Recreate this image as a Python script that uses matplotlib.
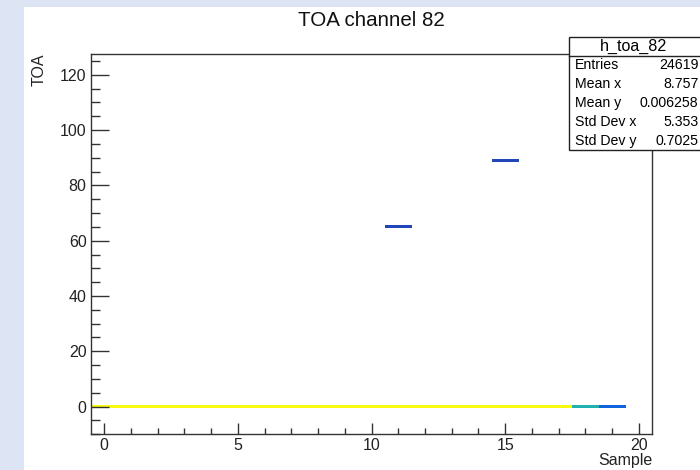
import matplotlib
matplotlib.use('Agg')
import matplotlib.pyplot as plt
from matplotlib.colors import LinearSegmentedColormap, Normalize
from matplotlib.patches import Rectangle
from matplotlib.ticker import MultipleLocator

plt.rcParams['font.family'] = ['Liberation Sans', 'DejaVu Sans']

sample = list(range(20)) + [11, 15]
toa = [0] * 20 + [65, 89]
counts = [1330] * 18 + [560, 120, 1, 1]

x_edges = [i - 0.5 for i in range(22)]
y_edges = [i - 0.5 for i in range(-10, 129)]

stats_labels = ['Entries', 'Mean x', 'Mean y', 'Std Dev x', 'Std Dev y']
stats_values = ['24619', '8.757', '0.006258', '5.353', '0.7025']

# ROOT kBird palette
bird = [(0.2082, 0.1664, 0.5293), (0.0592, 0.3599, 0.8684), (0.0780, 0.5041, 0.8385),
        (0.0232, 0.6419, 0.7914), (0.1802, 0.7178, 0.6425), (0.5301, 0.7492, 0.4662),
        (0.8186, 0.7328, 0.3499), (0.9956, 0.7862, 0.1968), (0.9764, 0.9832, 0.0539)]
cmap = LinearSegmentedColormap.from_list('bird', bird, N=255)

W, H = 700, 470
fig = plt.figure(figsize=(7, 4.7), dpi=100)
fig.patch.set_facecolor('#dde4f3')

# white pad
fig.add_artist(Rectangle((24 / W, 0), 1, 1 - 7 / H, transform=fig.transFigure,
                         facecolor='white', edgecolor='none', zorder=-1))

left, right, top, bottom = 90.7, 652.3, 54, 434.3
ax = fig.add_axes([left / W, 1 - bottom / H, (right - left) / W, (bottom - top) / H])
ax.set_facecolor('white')

ax.hist2d(sample, toa, bins=[x_edges, y_edges], weights=counts, cmin=1,
          cmap=cmap, norm=Normalize(vmin=-100, vmax=1330))

ax.set_xlim(-0.5, 20.5)
ax.set_ylim(-10, 127.5)

ax.xaxis.set_major_locator(MultipleLocator(5))
ax.xaxis.set_minor_locator(MultipleLocator(1))
ax.yaxis.set_major_locator(MultipleLocator(20))
ax.yaxis.set_minor_locator(MultipleLocator(5))

ax.tick_params(axis='x', which='major', direction='in', length=8, width=1,
               color='#333333', labelsize=11.5, pad=3, labelcolor='#222222')
ax.tick_params(axis='x', which='minor', direction='in', length=4, width=1, color='#333333')
ax.tick_params(axis='y', which='major', direction='in', length=13, width=1,
               color='#333333', labelsize=11.5, pad=3, labelcolor='#222222')
ax.tick_params(axis='y', which='minor', direction='in', length=6.5, width=1, color='#333333')

for s in ax.spines.values():
    s.set_color('#333333')
    s.set_linewidth(1)

ax.text(-0.092, 1.0, 'TOA', rotation=90, ha='center', va='top',
        transform=ax.transAxes, fontsize=11.5, color='#222222')
ax.text(1.0, -0.070, 'Sample', ha='right', va='center',
        transform=ax.transAxes, fontsize=11.5, color='#222222')

fig.text(371 / W, 1 - 20 / H, 'TOA channel 82', ha='center', va='center',
         fontsize=14.8, color='#111111')

# stats box
bx0, by0, by1, hy = 569, 37, 150, 56
fig.add_artist(Rectangle((bx0 / W, 1 - by1 / H), 0.2, (by1 - by0) / H,
                         transform=fig.transFigure, facecolor='white',
                         edgecolor='#222222', linewidth=1, zorder=5))
fig.add_artist(plt.Line2D([bx0 / W, 1], [1 - hy / H, 1 - hy / H],
                          transform=fig.transFigure, color='#222222', lw=1, zorder=6))
fig.text(634 / W, 1 - 46.5 / H, 'h_toa_82', ha='center', va='center',
         fontsize=11.6, zorder=7)
row_h = (by1 - hy) / len(stats_labels)
for i, (lab, val) in enumerate(zip(stats_labels, stats_values)):
    yc = 1 - (hy + row_h * (i + 0.5)) / H
    fig.text(575 / W, yc, lab, ha='left', va='center', fontsize=10.2, zorder=7)
    fig.text(698.5 / W, yc, val, ha='right', va='center', fontsize=10.2, zorder=7)

fig.savefig('out.png', dpi=100)
